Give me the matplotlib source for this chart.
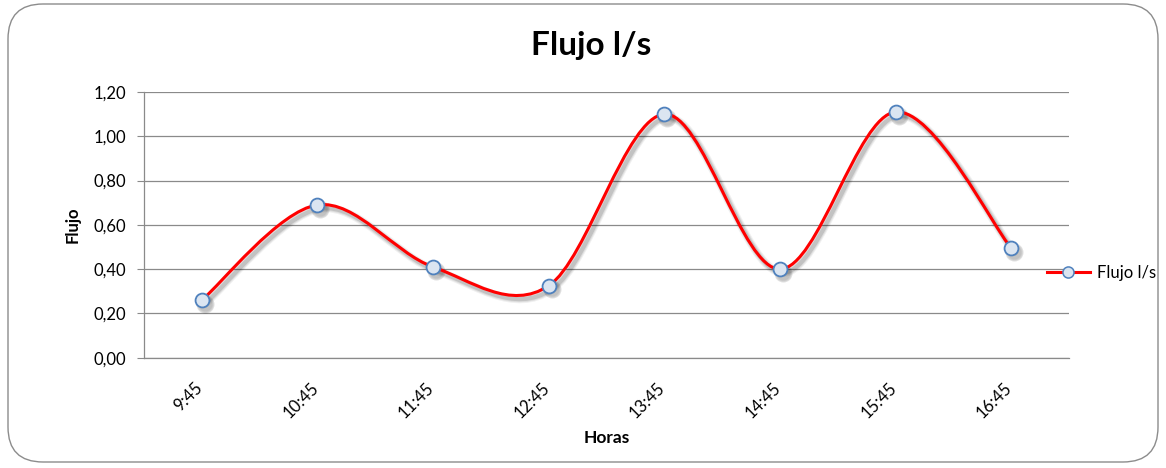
import matplotlib
matplotlib.use("Agg")
import matplotlib.pyplot as plt
import numpy as np
from matplotlib.path import Path
from matplotlib.patches import PathPatch, FancyBboxPatch
from matplotlib.lines import Line2D
import matplotlib.transforms as mtransforms
from matplotlib.ticker import FuncFormatter, MultipleLocator

plt.rcParams['font.family'] = ['Lato', 'DejaVu Sans']

horas = ["9:45", "10:45", "11:45", "12:45", "13:45", "14:45", "15:45", "16:45"]
flujo = [0.26, 0.69, 0.41, 0.325, 1.10, 0.40, 1.11, 0.495]
serie = "Flujo l/s"

W, H = 1166, 468
fig = plt.figure(figsize=(W / 100, H / 100), dpi=100)
fig.patch.set_facecolor("white")

# rounded chart border
border = FancyBboxPatch((8 / W, 6 / H), (W - 16) / W, (H - 10) / H,
                        boxstyle="round,pad=0,rounding_size=0.03",
                        transform=fig.transFigure, facecolor="none",
                        edgecolor="#8c8c8c", linewidth=1.0, mutation_aspect=W / H)
fig.patches.append(border)

ax = fig.add_axes([144 / W, 1 - 357.7 / H, (1069 - 144) / W, (357.7 - 92) / H])
x = np.arange(len(horas))
ax.set_xlim(-0.5, len(horas) - 0.5)
ax.set_ylim(0, 1.2)
ax.yaxis.set_major_locator(MultipleLocator(0.2))
ax.yaxis.set_major_formatter(FuncFormatter(lambda v, p: f"{v:.2f}".replace(".", ",")))
ax.grid(axis="y", color="#8a8a8a", linewidth=0.9)
ax.set_axisbelow(True)
for s in ["top", "right"]:
    ax.spines[s].set_visible(False)
for s in ["left", "bottom"]:
    ax.spines[s].set_color("#8a8a8a")
    ax.spines[s].set_linewidth(0.9)
ax.tick_params(axis="y", direction="out", length=5, color="#8a8a8a", pad=8, labelsize=12)
ax.tick_params(axis="x", length=0, pad=16, labelsize=12)
ax.set_xticks(x)
ax.set_xticklabels(horas, rotation=45, ha="right", va="top")
shift = mtransforms.ScaledTranslation(4 / 100, 0, fig.dpi_scale_trans)
for lbl in ax.get_xticklabels():
    lbl.set_transform(lbl.get_transform() + shift)

# smooth (Excel-like) curve computed in display space
fig.canvas.draw()
pts = ax.transData.transform(np.column_stack([x, flujo]))
n = len(pts)
verts = [pts[0]]
codes = [Path.MOVETO]
for i in range(n - 1):
    p0 = pts[i - 1] if i > 0 else pts[i]
    p1 = pts[i]
    p2 = pts[i + 1]
    p3 = pts[i + 2] if i + 2 < n else pts[i + 1]
    c1 = p1 + (p2 - p0) / 6
    c2 = p2 - (p3 - p1) / 6
    verts += [c1, c2, p2]
    codes += [Path.CURVE4] * 3
verts_data = ax.transData.inverted().transform(np.array(verts))
path = Path(verts_data, codes)

# shadow layers
for k, (lw, a) in enumerate([(6, 0.06), (4.5, 0.08), (3, 0.12)]):
    off = mtransforms.offset_copy(ax.transData, fig=fig, x=2.2, y=-2.6, units="points")
    ax.add_patch(PathPatch(path, facecolor="none", edgecolor="black", alpha=a,
                           linewidth=lw, transform=off, zorder=2, capstyle="round"))
    ax.plot(x, flujo, linestyle="none", marker="o", markersize=10 + (6 - lw), markeredgewidth=0,
            markerfacecolor="black", alpha=a, transform=off, zorder=2)

ax.add_patch(PathPatch(path, facecolor="none", edgecolor="#ff0000", linewidth=2.2,
                       zorder=3, capstyle="round"))
ax.plot(x, flujo, linestyle="none", marker="o", markersize=10,
        markerfacecolor="#dbe5f1", markeredgecolor="#4f81bd", markeredgewidth=1.3, zorder=4)

fig.text(591 / W, 1 - 46 / H, "Flujo l/s", ha="center", va="center",
         fontsize=24, fontweight="bold")
fig.text(73 / W, 1 - 225 / H, "Flujo", ha="center", va="center", rotation=90,
         fontsize=12, fontweight="bold")
fig.text(606.5 / W, 1 - 438 / H, "Horas", ha="center", va="center",
         fontsize=12.5, fontweight="bold")

handle = Line2D([], [], color="#ff0000", linewidth=2.2, marker="o", markersize=8,
                markerfacecolor="#dbe5f1", markeredgecolor="#4f81bd", markeredgewidth=1.1)
fig.legend([handle], [serie], loc="center left", bbox_to_anchor=(1040 / W, 1 - 273 / H),
           frameon=False, fontsize=12, handlelength=2.6, handletextpad=0.4, borderaxespad=0)

fig.savefig("out.png", dpi=100)
